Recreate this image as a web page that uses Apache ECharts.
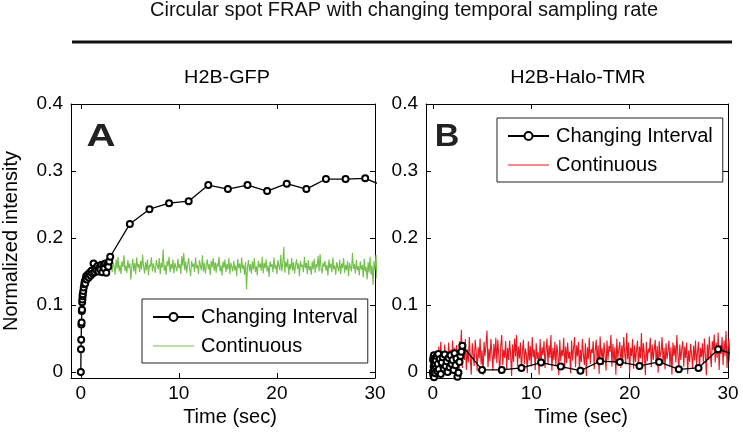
<!DOCTYPE html>
<html>
<head>
<meta charset="utf-8">
<style>html,body{margin:0;padding:0;background:#fff;}#c{width:743px;height:434px;}</style>
<script src="https://cdn.jsdelivr.net/npm/echarts@6/dist/echarts.min.js"></script>
</head>
<body>
<div id="c"></div>
<script>
// ---------- data ----------
const mainTitle = 'Circular spot FRAP with changing temporal sampling rate';
const panelTitles = ['H2B-GFP', 'H2B-Halo-TMR'];
const panelLetters = ['A', 'B'];
const seriesNames = ['Changing Interval', 'Continuous'];
const xTicks = [0, 10, 20, 30];
const yTicks = [0, 0.1, 0.2, 0.3, 0.4];

// sampling times of the "changing interval" protocol (sec)
const timesCI = [0,0.02,0.04,0.06,0.08,0.1,0.12,0.14,0.16,0.18,
  0.2,0.25,0.3,0.35,0.4,0.45,0.5,0.55,0.6,
  0.7,0.8,0.9,1.0,1.1,1.2,1.3,1.4,1.5,1.6,1.7,1.8,1.9,2.0,2.1,2.2,2.3,2.4,2.5,2.6,2.7,2.8,2.9,3.0,
  5,7,9,11,13,15,17,19,21,23,25,27,29,31];

// Panel A (H2B-GFP) changing interval
const ciA = [0,0.034,0.048,0.071,0.074,0.091,0.093,0.104,0.108,0.113,
  0.116,0.121,0.126,0.131,0.135,0.132,0.139,0.143,0.138,
  0.145,0.141,0.148,0.144,0.151,0.147,0.162,0.149,0.155,0.152,0.158,0.150,0.156,0.153,0.160,0.149,0.158,0.155,0.162,0.148,0.160,0.157,0.165,0.172,
  0.221,0.243,0.252,0.255,0.279,0.273,0.279,0.270,0.281,0.273,0.288,0.288,0.289,0.277];

// Panel B (H2B-Halo-TMR) changing interval
const ciB = [0.0,0.018,-0.004,0.022,0.008,0.025,-0.008,0.015,0.003,0.020,
  0.010,-0.002,0.017,0.006,0.024,0.001,0.012,0.027,0.004,
  0.019,-0.003,0.014,0.022,0.005,0.026,0.009,0.016,0.000,0.021,0.007,0.025,0.012,0.018,0.003,0.028,0.010,0.020,-0.007,-0.001,0.015,0.024,0.030,0.039,
  0.003,0.003,0.006,0.014,0.008,0.002,0.016,0.015,0.009,0.015,0.004,0.006,0.034,0.024];

// continuous acquisition: start time and frame interval (sec)
const contStartA = 2.6, contStepA = 0.1;
const contA = [
0.152,0.161,0.147,0.166,0.155,0.170,0.149,0.163,0.158,0.145,
0.168,0.154,0.172,0.150,0.160,0.146,0.165,0.157,0.174,0.151,
0.159,0.148,0.167,0.155,0.162,0.138,0.157,0.169,0.150,0.163,
0.146,0.171,0.156,0.161,0.149,0.166,0.153,0.175,0.158,0.147,
0.164,0.152,0.168,0.144,0.160,0.157,0.171,0.150,0.162,0.155,
0.148,0.167,0.159,0.153,0.170,0.146,0.163,0.156,0.183,0.151,
0.160,0.145,0.166,0.158,0.172,0.149,0.161,0.154,0.168,0.147,
0.163,0.156,0.150,0.169,0.155,0.161,0.146,0.173,0.158,0.178,
0.152,0.165,0.148,0.160,0.170,0.154,0.143,0.166,0.157,0.162,
0.149,0.171,0.155,0.160,0.146,0.167,0.158,0.152,0.174,0.150,
0.163,0.147,0.159,0.168,0.153,0.161,0.145,0.166,0.156,0.170,
0.151,0.164,0.148,0.162,0.157,0.172,0.150,0.159,0.144,0.165,
0.155,0.168,0.149,0.161,0.153,0.170,0.146,0.163,0.157,0.150,
0.166,0.152,0.159,0.143,0.169,0.155,0.162,0.148,0.171,0.154,
0.160,0.145,0.164,0.123,0.157,0.167,0.150,0.161,0.147,0.165,
0.153,0.170,0.149,0.158,0.144,0.166,0.156,0.162,0.151,0.172,
0.147,0.163,0.155,0.168,0.150,0.159,0.142,0.165,0.157,0.161,
0.149,0.171,0.154,0.160,0.146,0.167,0.158,0.152,0.175,0.150,
0.163,0.187,0.148,0.165,0.156,0.169,0.145,0.161,0.153,0.170,
0.151,0.164,0.147,0.159,0.168,0.154,0.162,0.143,0.166,0.157,
0.160,0.149,0.172,0.155,0.163,0.146,0.167,0.152,0.158,0.145,
0.165,0.153,0.169,0.148,0.161,0.156,0.173,0.150,0.176,0.154,
0.147,0.163,0.157,0.166,0.151,0.160,0.144,0.168,0.155,0.162,
0.149,0.171,0.153,0.159,0.145,0.164,0.157,0.150,0.168,0.146,
0.162,0.155,0.170,0.148,0.160,0.152,0.166,0.143,0.163,0.156,
0.150,0.178,0.154,0.161,0.147,0.167,0.152,0.158,0.144,0.165,
0.153,0.160,0.141,0.169,0.150,0.157,0.138,0.164,0.148,0.172,
0.145,0.159,0.130,0.166,0.151,0.175,0.140,0.162,0.152,0.147];

const contStartB = 0.5, contStepB = 0.1;
const contB = [
0.012,0.038,0.004,0.045,0.019,0.030,-0.003,0.041,0.015,0.027,
0.002,0.044,0.021,0.033,0.008,0.047,0.017,0.036,-0.002,0.040,
0.024,0.010,0.046,0.029,0.063,0.006,0.039,0.018,0.049,0.003,
0.034,0.014,0.052,0.022,-0.004,0.043,0.026,0.009,0.048,0.031,
0.001,0.037,0.020,0.050,0.011,0.032,-0.005,0.045,0.024,0.040,
0.062,0.007,0.035,0.016,0.049,0.028,0.002,0.042,0.019,0.051,
0.013,0.048,0.025,-0.003,0.039,0.055,0.010,0.033,0.021,0.046,
0.004,0.036,0.018,0.047,0.027,-0.006,0.041,0.015,0.050,0.023,
0.055,0.009,0.038,0.020,0.044,0.001,0.031,0.048,0.012,0.035,
0.026,-0.002,0.046,0.017,0.039,0.008,0.052,0.022,0.034,0.003,
0.043,0.019,0.030,-0.004,0.049,0.014,0.037,0.025,0.046,0.006,
0.032,0.050,0.011,0.040,0.021,0.055,0.002,0.036,0.018,0.045,
0.009,0.041,0.027,-0.005,0.048,0.016,0.033,0.024,0.051,0.005,
0.038,0.013,0.044,0.020,0.030,-0.002,0.047,0.017,0.035,0.052,
0.007,0.040,0.023,0.045,0.001,0.033,0.015,0.049,0.026,0.010,
0.043,-0.006,0.037,0.019,0.051,0.012,0.034,0.028,0.046,0.004,
0.031,0.048,0.016,0.040,-0.003,0.053,0.022,0.036,0.010,0.044,
0.025,0.002,0.047,0.018,0.039,0.030,0.055,0.008,0.042,0.014,
0.037,-0.004,0.050,0.021,0.033,0.045,0.006,0.040,0.017,0.052,
0.028,0.011,0.058,0.019,0.044,-0.002,0.036,0.024,0.049,0.005,
0.040,0.015,0.032,0.047,0.003,0.038,0.020,0.058,0.012,0.043,
0.026,-0.005,0.045,0.016,0.035,0.029,0.051,0.007,0.041,0.018,
0.033,0.048,0.010,0.039,-0.001,0.046,0.022,0.030,0.052,0.013,
0.036,0.004,0.043,0.019,0.031,0.047,0.009,0.037,-0.004,0.044,
0.024,0.040,0.014,0.055,0.027,0.002,0.041,0.018,0.034,0.046,
0.008,0.038,0.021,0.044,-0.003,0.032,0.015,0.042,0.026,0.005,
0.039,0.017,0.047,0.011,0.030,0.045,0.001,0.036,0.022,0.043,
0.012,0.050,0.025,-0.005,0.041,0.018,0.053,0.028,0.007,0.046,
0.033,0.056,0.014,0.044,0.021,0.059,0.003,0.040,0.027,0.052,
0.010,0.047,0.024,0.061,0.006,0.038,0.049,0.016,0.055,0.030];

// ---------- build ----------
const pairs = (xs, ys) => ys.map((v, i) => [xs[i], v]);
const cont = (t0, dt, ys) => ys.map((v, i) => [Math.round((t0 + i * dt) * 1000) / 1000, v]);

const FONT = 'Liberation Sans, Arial, sans-serif';
const FS = 19;     // tick labels
const FN = 20;     // axis names / legend
const colGreen = '#72bf4a', colRed = '#e8171f';

const grids = [
  {left: 71, top: 104, width: 304, height: 274},
  {left: 426, top: 104, width: 302, height: 274}
];
const xMins = [-1, -0.7];
const xNamePad = [[0, 0, 0, 14], [0, 0, 0, 8]];
const xAxis = [], yAxis = [];
for (let g = 0; g < 2; g++) {
  const common = {
    type: 'value', gridIndex: g, max: 30, min: xMins[g],
    axisLine: {show: true, onZero: false, lineStyle: {color: '#000', width: 1}},
    axisTick: {show: true, inside: true, length: 5, customValues: xTicks, lineStyle: {color: '#000'}},
    splitLine: {show: false}
  };
  xAxis.push(Object.assign({}, common, {
    position: 'bottom',
    axisLabel: {show: true, customValues: xTicks, color: '#000', fontSize: FS, fontFamily: FONT, margin: 6},
    name: 'Time (sec)', nameLocation: 'middle', nameGap: 26,
    nameTextStyle: {color: '#000', fontSize: FN, fontFamily: FONT, padding: xNamePad[g]}
  }));
  xAxis.push(Object.assign({}, common, {position: 'top', axisLabel: {show: false}}));
  const ycommon = {
    type: 'value', gridIndex: g, min: -0.009, max: 0.4,
    axisLine: {show: true, onZero: false, lineStyle: {color: '#000', width: 1}},
    axisTick: {show: true, inside: true, length: 5, customValues: yTicks, lineStyle: {color: '#000'}},
    splitLine: {show: false}
  };
  const yl = Object.assign({}, ycommon, {
    position: 'left',
    axisLabel: {show: true, customValues: yTicks, color: '#000', fontSize: FS, fontFamily: FONT, margin: 8}
  });
  if (g === 0) {
    Object.assign(yl, {name: 'Normalized intensity', nameLocation: 'middle', nameGap: 50, nameRotate: 90,
      nameTextStyle: {color: '#000', fontSize: FN, fontFamily: FONT}});
  }
  yAxis.push(yl);
  yAxis.push(Object.assign({}, ycommon, {position: 'right', axisLabel: {show: false}}));
}

const ciLine = (data, g) => ({
  name: seriesNames[0], type: 'line', xAxisIndex: 2 * g, yAxisIndex: 2 * g, data: data,
  symbol: 'emptyCircle', symbolSize: 6, showAllSymbol: true,
  lineStyle: {color: '#000', width: 1.3}, itemStyle: {color: '#000', borderWidth: 1},
  z: 3, silent: true
});
const contLine = (data, g, col) => ({
  name: seriesNames[1], type: 'line', xAxisIndex: 2 * g, yAxisIndex: 2 * g, data: data,
  symbol: 'none', lineStyle: {color: col, width: 1.1}, itemStyle: {color: col},
  z: 2, silent: true
});

const legendBase = {
  orient: 'vertical', itemWidth: 41, itemHeight: 10, itemGap: 9,
  borderColor: '#222', borderWidth: 1, padding: [8, 10, 7, 10], backgroundColor: '#fff',
  textStyle: {color: '#000', fontSize: FN, fontFamily: FONT, padding: [0, 0, 0, 2]},
  selectedMode: false
};
const legendItems = (col) => [
  {name: seriesNames[0]},
  {name: seriesNames[1], itemStyle: {opacity: 0}, lineStyle: {color: col, width: 1.1}}
];

const option = {
  animation: false,
  grid: grids,
  xAxis: xAxis,
  yAxis: yAxis,
  legend: [
    Object.assign({}, legendBase, {left: 142, top: 299, data: legendItems(colGreen)}),
    Object.assign({}, legendBase, {left: 497, top: 118, data: legendItems(colRed)})
  ],
  series: [
    contLine(cont(contStartA, contStepA, contA), 0, colGreen),
    ciLine(pairs(timesCI, ciA), 0),
    contLine(cont(contStartB, contStepB, contB), 1, colRed),
    ciLine(pairs(timesCI, ciB), 1)
  ],
  graphic: [
    {type: 'text', x: 404, y: 10, style: {text: mainTitle, font: '20px ' + FONT, fill: '#111', textAlign: 'center', textVerticalAlign: 'middle'}},
    {type: 'line', shape: {x1: 72, y1: 42, x2: 732, y2: 42}, style: {stroke: '#111', lineWidth: 3}},
    {type: 'text', x: 227, y: 78, scaleX: 1.1, style: {text: panelTitles[0], font: '18px ' + FONT, fill: '#000', textAlign: 'center', textVerticalAlign: 'middle'}},
    {type: 'text', x: 578, y: 78, scaleX: 1.1, style: {text: panelTitles[1], font: '18px ' + FONT, fill: '#000', textAlign: 'center', textVerticalAlign: 'middle'}},
    {type: 'text', x: 101, y: 137, scaleX: 1.3, z: 10, style: {text: panelLetters[0], font: 'bold 31px ' + FONT, fill: '#222', textAlign: 'center', textVerticalAlign: 'middle'}},
    {type: 'text', x: 447, y: 137, scaleX: 1.1, z: 10, style: {text: panelLetters[1], font: 'bold 31px ' + FONT, fill: '#222', textAlign: 'center', textVerticalAlign: 'middle'}}
  ]
};
const chart = echarts.init(document.getElementById('c'));
chart.setOption(option);
</script>
</body>
</html>
